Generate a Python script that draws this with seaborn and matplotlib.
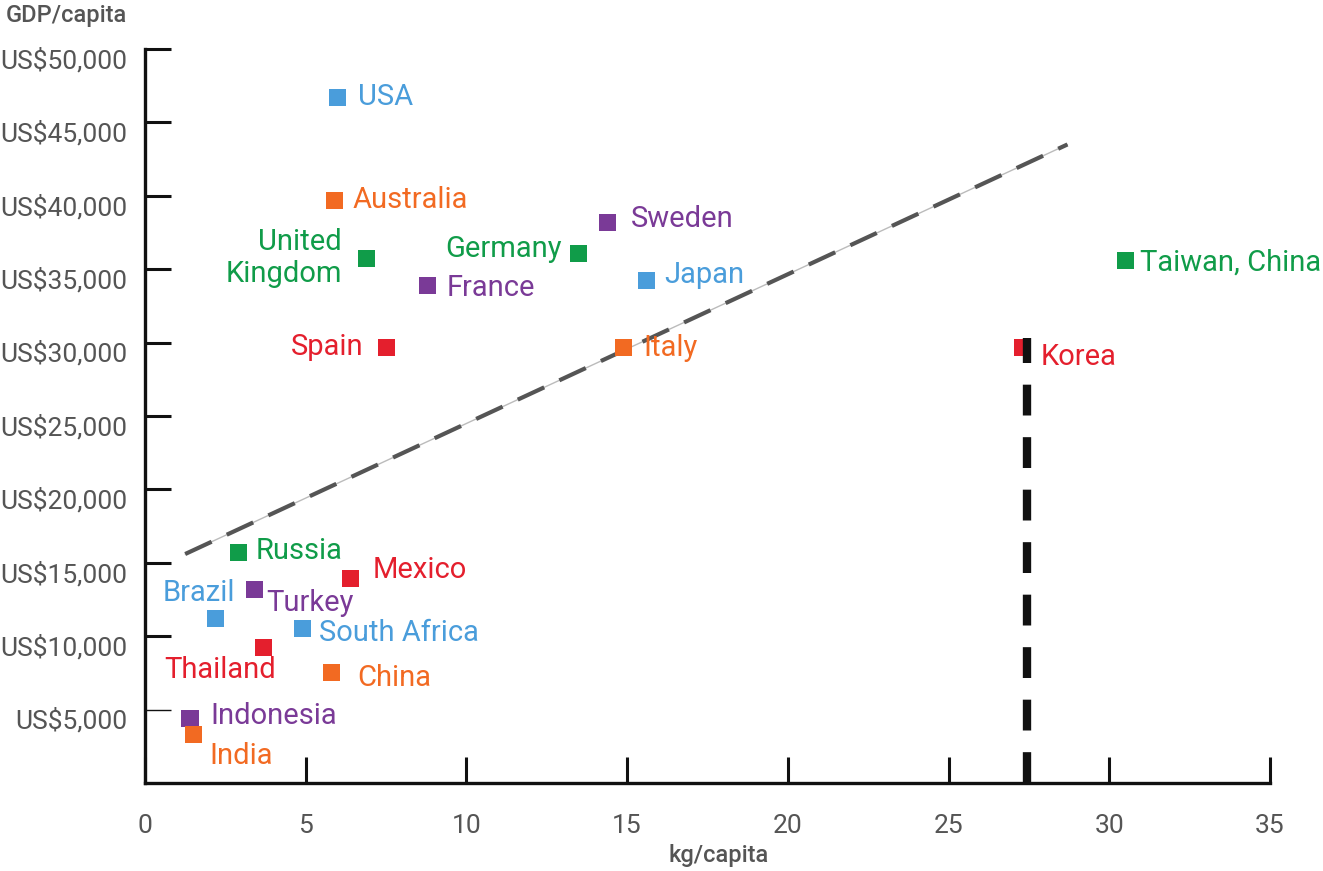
import matplotlib
matplotlib.use('Agg')
import matplotlib.pyplot as plt
import matplotlib.transforms as mtransforms
import seaborn as sns
import pandas as pd
from matplotlib.ticker import FuncFormatter

# datos
paises = ['USA', 'Australia', 'United\nKingdom', 'Germany', 'Sweden', 'France',
          'Japan', 'Spain', 'Italy', 'Taiwan, China', 'Korea', 'Russia',
          'Mexico', 'Turkey', 'Brazil', 'South Africa', 'Thailand', 'China',
          'Indonesia', 'India']
kg_capita = [6.0, 5.9, 6.9, 13.5, 14.4, 8.8, 15.6, 7.5, 14.9, 30.5, 27.3,
             2.9, 6.4, 3.4, 2.2, 4.9, 3.7, 5.8, 1.4, 1.5]
gdp_capita = [46700, 39700, 35700, 36100, 38200, 33900, 34200, 29700, 29700,
              35600, 29700, 15700, 13900, 13200, 11200, 10500, 9200, 7500,
              4400, 3300]
grupo = ['azul', 'naranja', 'verde', 'verde', 'violeta', 'violeta', 'azul',
         'rojo', 'naranja', 'verde', 'rojo', 'verde', 'rojo', 'violeta',
         'azul', 'azul', 'rojo', 'naranja', 'violeta', 'naranja']

tendencia_x = [1.25, 28.7]
tendencia_y = [15600, 43500]
korea_x = 27.45
korea_y_max = 30300

x_ticks = [0, 5, 10, 15, 20, 25, 30, 35]
y_ticks = [5000, 10000, 15000, 20000, 25000, 30000, 35000, 40000, 45000, 50000]

colores = {
    'azul': '#4a9ddb',
    'naranja': '#f26a22',
    'verde': '#109c49',
    'violeta': '#7a3a97',
    'rojo': '#e41f2d',
}

# posicion de las etiquetas (pixeles respecto al marcador, alineacion)
etiquetas = {
    'USA': (20, 0, 'left'),
    'Australia': (18, 0, 'left'),
    'United\nKingdom': (-25, 1, 'right'),
    'Germany': (-17, 4, 'right'),
    'Sweden': (23, 3, 'left'),
    'France': (19, -3, 'left'),
    'Japan': (18, 6, 'left'),
    'Spain': (-23, 0, 'right'),
    'Italy': (19, -1, 'left'),
    'Taiwan, China': (15, -2, 'left'),
    'Korea': (18, -10, 'left'),
    'Russia': (17, 2, 'left'),
    'Mexico': (22, 9, 'left'),
    'Turkey': (12, -14, 'left'),
    'Brazil': (19, 26, 'right'),
    'South Africa': (17, -4, 'left'),
    'Thailand': (12, -22, 'right'),
    'China': (26, -5, 'left'),
    'Indonesia': (20, 2, 'left'),
    'India': (16, -21, 'left'),
}

df = pd.DataFrame({'pais': paises, 'kg': kg_capita, 'gdp': gdp_capita,
                   'grupo': grupo})

sns.set_style('white')
plt.rcParams['font.family'] = ['Roboto', 'DejaVu Sans']

fig = plt.figure(figsize=(13.23, 8.71), dpi=100)
ax = fig.add_axes([0.1096, 0.101, 0.8503, 0.8427])

# linea de tendencia
ax.plot(tendencia_x, tendencia_y, color='#bbbbbb', lw=1, zorder=1)
ax.plot(tendencia_x, tendencia_y, color='#555555', lw=3,
        dashes=(7, 4), zorder=2)

# linea vertical de Korea
ax.plot([korea_x, korea_x], [0, korea_y_max], color='#111111', lw=6,
        dashes=(3.7, 2.6), zorder=4, solid_capstyle='butt',
        dash_capstyle='butt', clip_on=False)

sns.scatterplot(data=df, x='kg', y='gdp', hue='grupo', palette=colores,
                marker='s', s=150, linewidth=0, legend=False, ax=ax,
                zorder=3, clip_on=False)

for _, fila in df.iterrows():
    dx, dy, ha = etiquetas[fila['pais']]
    ax.annotate(fila['pais'], (fila['kg'], fila['gdp']), xytext=(dx, dy),
                textcoords='offset pixels', ha=ha, va='center',
                color=colores[fila['grupo']], fontsize=21,
                linespacing=1.2, annotation_clip=False)

ax.set_xlim(0, 35)
ax.set_ylim(0, 50000)
ax.set_xticks(x_ticks)
ax.set_yticks(y_ticks)
ax.set_xlabel('')
ax.set_ylabel('')
ax.yaxis.set_major_formatter(FuncFormatter(lambda v, p: f'US${int(v):,}'))

for lado in ['top', 'right']:
    ax.spines[lado].set_visible(False)
for lado in ['left', 'bottom']:
    ax.spines[lado].set_linewidth(2.4)
    ax.spines[lado].set_color('#111111')

ax.tick_params(axis='both', direction='in', length=19, width=2.2,
               color='#111111', labelcolor='#555555', labelsize=19,
               bottom=True, left=True)
ax.tick_params(axis='y', pad=13)
ax.tick_params(axis='x', pad=22)
# el tick de 5000 es fino y gris
ax.yaxis.get_major_ticks()[0].tick1line.set_markeredgewidth(1)
ax.yaxis.get_major_ticks()[0].tick1line.set_color('#888888')

# las etiquetas del eje Y quedan un poco por debajo del tick
desplazar = mtransforms.ScaledTranslation(0, -0.09, fig.dpi_scale_trans)
for lbl in ax.get_yticklabels():
    lbl.set_transform(lbl.get_transform() + desplazar)

fig.text(0.004, 0.982, 'GDP/capita', fontsize=17, color='#555555',
         ha='left', va='center', fontweight='medium')
fig.text(0.543, 0.018, 'kg/capita', fontsize=17, color='#555555',
         ha='center', va='center', fontweight='medium')

plt.savefig('out.png', dpi=100)
